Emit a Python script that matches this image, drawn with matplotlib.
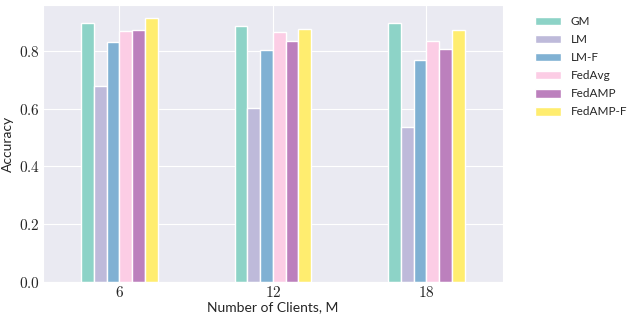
import numpy as np
import matplotlib
matplotlib.use("Agg")
import matplotlib.pyplot as plt
import seaborn as sns

# data
clients = ["6", "12", "18"]
methods = ["GM", "LM", "LM-F", "FedAvg", "FedAMP", "FedAMP-F"]
gm = [0.897, 0.884, 0.895]
lm = [0.679, 0.601, 0.535]
lm_f = [0.829, 0.804, 0.769]
fedavg = [0.867, 0.864, 0.835]
fedamp = [0.873, 0.835, 0.807]
fedamp_f = [0.912, 0.875, 0.870]
colors = ["#8dd3c7", "#bebada", "#80b1d3", "#fccde5", "#bc80bd", "#ffed6f"]

sns.set_style("darkgrid")
plt.rcParams["font.family"] = ["Lato", "DejaVu Sans"]
plt.rcParams["mathtext.fontset"] = "cm"

fig = plt.figure(figsize=(6.28, 3.18), dpi=100)
ax = fig.add_axes([0.068, 0.113, 0.733, 0.871])

x = np.arange(len(clients))
width = 0.5 / len(methods)
series = [gm, lm, lm_f, fedavg, fedamp, fedamp_f]
for i, (name, vals) in enumerate(zip(methods, series)):
    offset = (i - (len(methods) - 1) / 2) * width
    ax.bar(x + offset, vals, width, color=colors[i], label=name)

ax.set_xlim(-0.5, 2.5)
ax.set_xticks(x)
ax.set_xticklabels(["$%s$" % c for c in clients], fontsize=11)
ax.set_yticks([0.0, 0.2, 0.4, 0.6, 0.8])
ax.set_yticklabels(["$%.1f$" % v for v in [0.0, 0.2, 0.4, 0.6, 0.8]], fontsize=11)
ax.tick_params(axis="both", pad=2, length=0)
ax.set_xlabel("Number of Clients, M", fontsize=10, labelpad=1)
ax.set_ylabel("Accuracy", fontsize=10)
ax.yaxis.set_label_coords(-0.063, 0.5)

ax.legend(loc="upper left", bbox_to_anchor=(535 / 628, 1 - 16 / 318),
          bbox_transform=fig.transFigure, frameon=False, borderpad=0,
          borderaxespad=0, fontsize=8.5, handlelength=2.2, handleheight=0.75,
          handletextpad=0.8, labelspacing=0.6)

fig.savefig("out.png", dpi=100)
